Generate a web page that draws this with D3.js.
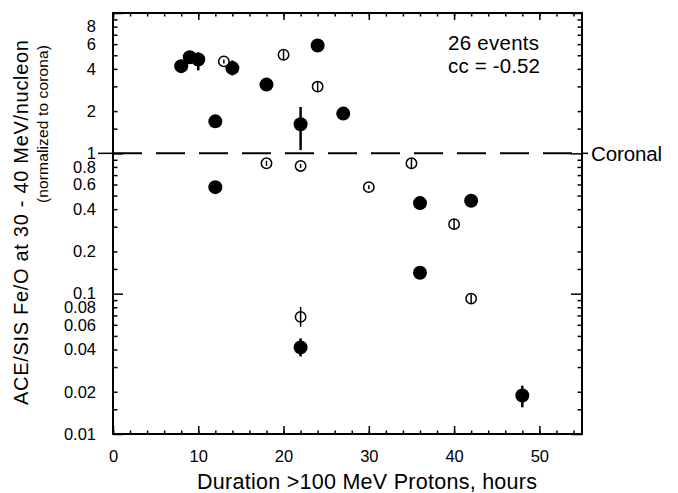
<!DOCTYPE html>
<html>
<head>
<meta charset="utf-8">
<script src="https://cdn.jsdelivr.net/npm/d3@7"></script>
<style>
  body { margin: 0; background: #fff; }
  svg { font-family: "Liberation Sans", Arial, sans-serif; }
</style>
</head>
<body>
<div id="chart-area"></div>
<script>
const width = 678;
const height = 493;

// filled circles
const filledDur = [8, 9, 10, 14, 18, 24, 12, 22, 27, 12, 36, 42, 36, 22, 48];
const filledFeO = [4.18, 4.84, 4.66, 4.05, 3.09, 5.86, 1.69, 1.61, 1.92, 0.574, 0.442, 0.459, 0.141, 0.0414, 0.0188];
const filledLo  = [4.18, 4.84, 3.90, 3.59, 3.09, 5.86, 1.69, 1.055, 1.92, 0.574, 0.442, 0.459, 0.141, 0.0357, 0.0155];
const filledHi  = [4.18, 4.84, 5.23, 4.59, 3.09, 5.86, 1.69, 2.14, 1.92, 0.574, 0.442, 0.459, 0.141, 0.048, 0.0221];

// open circles
const openDur = [13, 20, 24, 18, 22, 35, 30, 40, 42, 22];
const openFeO = [4.52, 5.04, 2.99, 0.849, 0.813, 0.849, 0.574, 0.313, 0.0922, 0.0683];
const openLo  = [4.37, 4.68, 2.78, 0.815, 0.787, 0.776, 0.556, 0.288, 0.0857, 0.058];
const openHi  = [4.67, 5.42, 3.22, 0.885, 0.840, 0.929, 0.593, 0.340, 0.0992, 0.0805];

const xMajor = [0, 10, 20, 30, 40, 50];
const xMinor = d3.range(0, 55, 2);
const yLabels = [0.01, 0.02, 0.04, 0.06, 0.08, 0.1, 0.2, 0.4, 0.6, 0.8, 1, 2, 4, 6, 8];
const yMajor = [0.01, 0.1, 1, 10];
const yMinorMult = [1.5, 2, 3, 4, 5, 6, 7, 8, 9];

const margin = {left: 113, right: 96, top: 13, bottom: 59};
const iw = width - margin.left - margin.right;
const ih = height - margin.top - margin.bottom;

const svg = d3.select("#chart-area")
    .append("svg")
        .attr("width", width)
        .attr("height", height);

const g = svg.append("g")
    .attr("transform", `translate(${margin.left}, ${margin.top})`);

const x = d3.scaleLinear().domain([0, 55]).range([0, iw]);
const y = d3.scaleLog().domain([0.01, 10]).range([ih, 0]);

const yMinor = [];
[0.01, 0.1, 1].forEach(d => yMinorMult.forEach(m => yMinor.push(d * m)));

const styleTicks = sel => {
    sel.select(".domain").remove();
    sel.selectAll("line").attr("stroke", "#000").attr("stroke-width", 1.5);
    sel.selectAll("text").attr("fill", "#000").style("font-size", "16.5px");
};

// x axes (ticks point inward)
g.append("g").attr("transform", `translate(0,${ih})`)
    .call(d3.axisBottom(x).tickValues(xMinor).tickSize(-3.5).tickFormat(""))
    .call(styleTicks);
g.append("g").attr("transform", `translate(0,${ih})`)
    .call(d3.axisBottom(x).tickValues(xMajor).tickSize(-8).tickPadding(16).tickFormat(d3.format("d")))
    .call(styleTicks);
g.append("g")
    .call(d3.axisTop(x).tickValues(xMinor).tickSize(-3.5).tickFormat(""))
    .call(styleTicks);
g.append("g")
    .call(d3.axisTop(x).tickValues(xMajor).tickSize(-7).tickFormat(""))
    .call(styleTicks);

// y axes
g.append("g")
    .call(d3.axisLeft(y).tickValues(yMinor).tickSize(-4.5).tickFormat(""))
    .call(styleTicks);
g.append("g")
    .call(d3.axisLeft(y).tickValues(yMajor).tickSize(-10).tickFormat(""))
    .call(styleTicks);
g.append("g")
    .call(d3.axisLeft(y).tickValues(yLabels).tickSize(0).tickPadding(17).tickFormat(d => String(d)))
    .call(styleTicks);
g.append("g").attr("transform", `translate(${iw},0)`)
    .call(d3.axisRight(y).tickValues(yMinor).tickSize(-4.5).tickFormat(""))
    .call(styleTicks);
g.append("g").attr("transform", `translate(${iw},0)`)
    .call(d3.axisRight(y).tickValues(yMajor).tickSize(-11).tickFormat(""))
    .call(styleTicks);

// frame
g.append("rect")
    .attr("width", iw).attr("height", ih)
    .attr("fill", "none").attr("stroke", "#000").attr("stroke-width", 2);

// coronal line
g.append("line")
    .attr("x1", 0).attr("x2", iw)
    .attr("y1", y(1)).attr("y2", y(1))
    .attr("stroke", "#000").attr("stroke-width", 2)
    .attr("stroke-dasharray", "29,14");
g.append("line")
    .attr("x1", -15).attr("x2", 0)
    .attr("y1", y(1)).attr("y2", y(1))
    .attr("stroke", "#000").attr("stroke-width", 1.5);
g.append("line")
    .attr("x1", iw).attr("x2", iw + 6)
    .attr("y1", y(1)).attr("y2", y(1))
    .attr("stroke", "#000").attr("stroke-width", 1.5);
g.append("text")
    .attr("x", iw + 9).attr("y", y(1))
    .attr("dy", "0.35em")
    .attr("textLength", 71)
    .style("font-size", "20.5px")
    .text("Coronal");

// filled points
const filled = filledDur.map((d, i) => ({x: d, v: filledFeO[i], lo: filledLo[i], hi: filledHi[i]}));
const open = openDur.map((d, i) => ({x: d, v: openFeO[i], lo: openLo[i], hi: openHi[i]}));

g.selectAll(".ferr")
  .data(filled)
  .enter()
  .append("line")
    .attr("x1", d => x(d.x)).attr("x2", d => x(d.x))
    .attr("y1", d => y(d.lo)).attr("y2", d => y(d.hi))
    .attr("stroke", "#000").attr("stroke-width", 2.5);

g.selectAll(".fdot")
  .data(filled)
  .enter()
  .append("circle")
    .attr("cx", d => x(d.x))
    .attr("cy", d => y(d.v))
    .attr("r", 7)
    .attr("fill", "#000");

g.selectAll(".odot")
  .data(open)
  .enter()
  .append("circle")
    .attr("cx", d => x(d.x))
    .attr("cy", d => y(d.v))
    .attr("r", 5.2)
    .attr("fill", "#fff")
    .attr("stroke", "#000")
    .attr("stroke-width", 1.5);

g.selectAll(".oerr")
  .data(open)
  .enter()
  .append("line")
    .attr("x1", d => x(d.x)).attr("x2", d => x(d.x))
    .attr("y1", d => y(d.lo)).attr("y2", d => y(d.hi))
    .attr("stroke", "#000").attr("stroke-width", 1.5);

// annotation
g.append("text")
    .attr("x", 335).attr("y", 37)
    .attr("textLength", 91)
    .style("font-size", "20.5px")
    .text("26 events");
g.append("text")
    .attr("x", 335).attr("y", 60)
    .attr("textLength", 92)
    .style("font-size", "20.5px")
    .text("cc = -0.52");

// axis titles
svg.append("text")
    .attr("x", 197).attr("y", 489)
    .attr("textLength", 340)
    .style("font-size", "21.5px")
    .text("Duration >100 MeV Protons, hours");

svg.append("text")
    .attr("transform", "translate(28,405) rotate(-90)")
    .attr("textLength", 365)
    .style("font-size", "20px")
    .text("ACE/SIS Fe/O at 30 - 40 MeV/nucleon");

svg.append("text")
    .attr("transform", "translate(48,203) rotate(-90)")
    .attr("textLength", 158)
    .style("font-size", "15.5px")
    .text("(normalized to corona)");
</script>
</body>
</html>
